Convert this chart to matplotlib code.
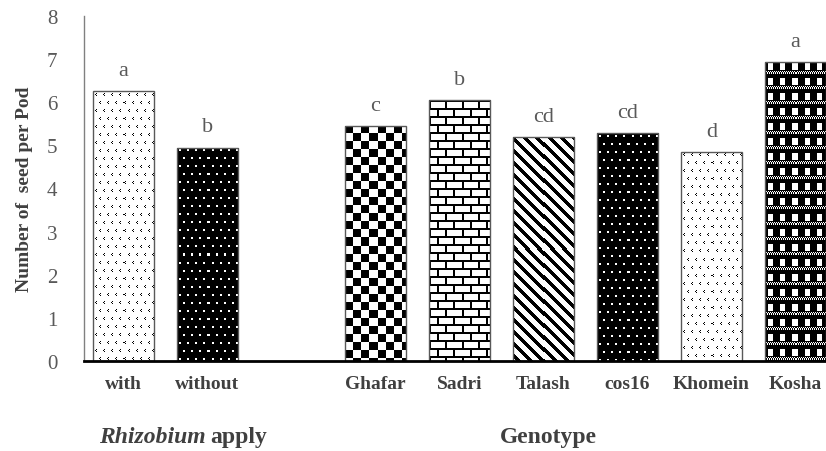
import matplotlib
matplotlib.use("Agg")
import matplotlib.pyplot as plt
import numpy as np

plt.rcParams['font.family'] = ['Liberation Serif', 'DejaVu Serif']

# data
labels = ["with", "without", "Ghafar", "Sadri", "Talash", "cos16", "Khomein", "Kosha"]
positions = [0, 1, 3, 4, 5, 6, 7, 8]
seeds = [6.25, 4.95, 5.45, 6.05, 5.2, 5.28, 4.85, 6.94]
letters = ["a", "b", "c", "b", "cd", "cd", "d", "a"]
patterns = ["marks", "wdots", "checker", "brick", "diag", "wdots", "marks", "plaid"]


def tile(name):
    # 1 = black, 0 = white
    if name == "checker":
        t = np.kron(np.array([[1, 0], [0, 1]]), np.ones((8, 8)))
    elif name == "brick":
        t = np.zeros((16, 16))
        t[0:2, :] = 1
        t[8:10, :] = 1
        t[2:8, 0:2] = 1
        t[10:16, 8:10] = 1
    elif name == "diag":
        i, j = np.mgrid[0:12, 0:12]
        t = ((i - j) % 12 < 5).astype(float)
    elif name == "wdots":
        t = np.ones((16, 16))
        for r, c in [(2, 2), (2, 10), (10, 6), (10, 14)]:
            t[r:r + 2, c:c + 2] = 0
    elif name == "marks":
        t = np.zeros((16, 16))
        for r, c in [(2, 2), (2, 10), (10, 6), (10, 14)]:
            t[r, c + 1] = 1
            t[r + 1, c] = 1
            t[r + 2, c + 1] = 1
    elif name == "plaid":
        t = np.ones((15, 12))
        t[2:9, 3:8] = 0
        t[11:13, ::2] = 0
        t[10, 1::2] = 0
    return t


fig = plt.figure(figsize=(8.26, 4.52), dpi=100)
ax = fig.add_axes([84 / 826, 90 / 452, 742 / 826, 345 / 452])
ax.set_xlim(-0.47, 8.365)
ax.set_ylim(0, 8)

bars = ax.bar(positions, seeds, width=0.73, facecolor="none",
              edgecolor="#595959", linewidth=1, zorder=3)

for b, pat in zip(bars, patterns):
    x0, y0 = b.get_x(), 0
    x1, y1 = b.get_x() + b.get_width(), b.get_height()
    p0 = ax.transData.transform((x0, y0))
    p1 = ax.transData.transform((x1, y1))
    w_px = int(round(p1[0] - p0[0]))
    h_px = int(round(p1[1] - p0[1]))
    t = tile(pat)
    reps = (h_px // t.shape[0] + 2, w_px // t.shape[1] + 2)
    img = np.tile(t, reps)[:h_px, :w_px]
    im = ax.imshow(img, cmap="gray_r", vmin=0, vmax=1, interpolation="nearest",
                   extent=(x0, x1, y0, y1), origin="upper", aspect="auto", zorder=2)
    im.set_clip_path(b)

for pos, val, let in zip(positions, seeds, letters):
    ax.annotate(let, (pos, val), xytext=(0, 8), textcoords="offset points",
                ha="center", va="bottom", fontsize=16, color="#595959")

ax.set_xticks(positions)
ax.set_xticklabels(labels, fontsize=14, fontweight="bold", color="#404040")
ax.set_yticks(range(0, 9))
ax.tick_params(axis="y", length=0, pad=19, labelsize=15, labelcolor="#595959")
ax.tick_params(axis="x", length=0, pad=10)

for s in ["top", "right"]:
    ax.spines[s].set_visible(False)
ax.spines["left"].set_color("#808080")
ax.spines["left"].set_linewidth(1)
ax.spines["bottom"].set_color("black")
ax.spines["bottom"].set_linewidth(2)
ax.spines["bottom"].set_zorder(4)

ax.set_ylabel("Number of  seed per Pod", fontsize=14, fontweight="bold",
              color="#404040", labelpad=10)

fig.text(206 / 826, 1 - 438 / 452, "Rhizobium", style="italic", fontweight="bold",
         fontsize=17, color="#404040", ha="right", va="center")
fig.text(210 / 826, 1 - 438 / 452, "apply", fontweight="bold",
         fontsize=17, color="#404040", ha="left", va="center")
fig.text(548 / 826, 1 - 438 / 452, "Genotype", fontweight="bold",
         fontsize=17, color="#404040", ha="center", va="center")

fig.savefig("out.png", dpi=100)
